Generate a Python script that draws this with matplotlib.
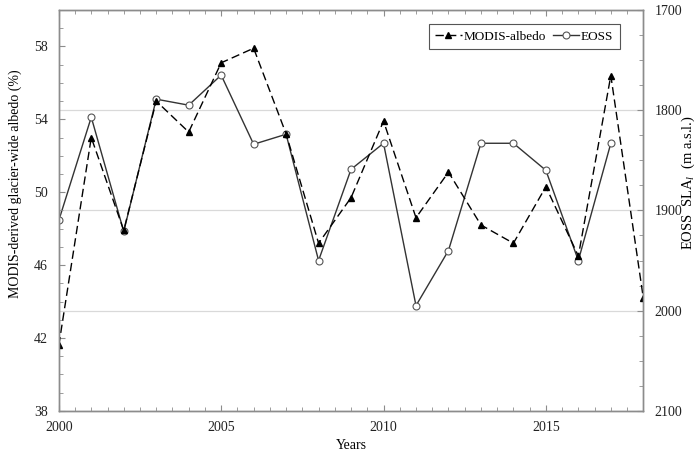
import matplotlib
matplotlib.use("Agg")
import matplotlib.pyplot as plt
from matplotlib.ticker import MultipleLocator, FixedLocator

plt.rcParams['font.family'] = ['Liberation Serif', 'DejaVu Serif']
plt.rcParams['font.size'] = 10
plt.rcParams['mathtext.fontset'] = 'custom'
plt.rcParams['mathtext.rm'] = 'Liberation Serif'
plt.rcParams['mathtext.it'] = 'Liberation Serif:italic'

# Data
years_modis = [2000, 2001, 2002, 2003, 2004, 2005, 2006, 2007, 2008, 2009,
               2010, 2011, 2012, 2013, 2014, 2015, 2016, 2017, 2018]
modis_albedo = [41.6, 53.0, 47.9, 55.0, 53.3, 57.1, 57.9, 53.2, 47.2, 49.7,
                53.9, 48.6, 51.1, 48.2, 47.2, 50.3, 46.5, 56.4, 44.2]

years_eoss = [2000, 2001, 2002, 2003, 2004, 2005, 2006, 2007, 2008, 2009,
              2010, 2011, 2012, 2013, 2014, 2015, 2016, 2017]
eoss_sla = [1910, 1807, 1921, 1789, 1795, 1765, 1834, 1824, 1950, 1859,
            1833, 1995, 1940, 1833, 1833, 1860, 1950, 1833]

albedo_ticks = [38, 42, 46, 50, 54, 58]

spine_col = '#8c8c8c'
grid_col = '#d9d9d9'

fig = plt.figure(figsize=(7, 4.53), dpi=100)
ax = fig.add_axes([0.084, 0.093, 0.835, 0.885])
ax2 = ax.twinx()

# right axis behind, left axis on top
ax.set_zorder(ax2.get_zorder() + 1)
ax.patch.set_visible(False)

# EOSS on the right (inverted) axis
l2, = ax2.plot(years_eoss, eoss_sla, '-', color='#333333', lw=1.0,
               marker='o', markersize=5, markerfacecolor='white',
               markeredgecolor='#555555', markeredgewidth=0.8, label='EOSS')
ax2.set_ylim(2100, 1700)
ax2.yaxis.set_major_locator(MultipleLocator(100))
ax2.yaxis.set_minor_locator(MultipleLocator(25))
ax2.set_ylabel('EOSS  SLA$_{l}$  (m a.s.l.)', rotation=90, fontsize=10.5)
ax2.yaxis.set_label_coords(1.062, 0.57)
ax2.grid(axis='y', which='major', color=grid_col, lw=0.9)

# MODIS albedo on the left axis
l1, = ax.plot(years_modis, modis_albedo, color='black', lw=1.0,
              linestyle=(0, (6, 3)), marker='^', markersize=5,
              markerfacecolor='black', markeredgecolor='black',
              label='MODIS-albedo')
ax.set_xlim(2000, 2018)
ax.set_ylim(38, 60)
ax.xaxis.set_major_locator(MultipleLocator(5))
ax.xaxis.set_minor_locator(MultipleLocator(0.5))
ax.yaxis.set_major_locator(FixedLocator(albedo_ticks))
ax.yaxis.set_minor_locator(MultipleLocator(1))
ax.set_xlabel('Years', labelpad=4)
ax.set_ylabel('MODIS-derived glacier-wide albedo (%)')
ax.yaxis.set_label_coords(-0.063, 0.567)
ax2.grid(axis='x', which='major', color=grid_col, lw=0.9)
ax2.set_xlim(2000, 2018)
ax2.xaxis.set_major_locator(MultipleLocator(5))

for a in (ax, ax2):
    for s in a.spines.values():
        s.set_color(spine_col)
        s.set_linewidth(1.0)
    a.tick_params(which='both', direction='in', color=spine_col, labelcolor='#222222')
    a.tick_params(which='major', length=4)
    a.tick_params(which='minor', length=3)

ax.tick_params(axis='x', which='both', top=True, pad=7)
ax.tick_params(axis='y', which='both', right=False, pad=8)
ax2.tick_params(axis='y', which='both', left=False, right=True, pad=8)

leg = ax.legend(handles=[l1, l2], loc='upper right', ncol=2,
                bbox_to_anchor=(0.96, 0.965), borderaxespad=0,
                handlelength=2.0, handletextpad=0.15, columnspacing=0.5,
                borderpad=0.5, fancybox=False, framealpha=1, fontsize=9.5)
leg.get_frame().set_edgecolor('#555555')
leg.get_frame().set_linewidth(0.8)

fig.savefig('out.png', dpi=100)
